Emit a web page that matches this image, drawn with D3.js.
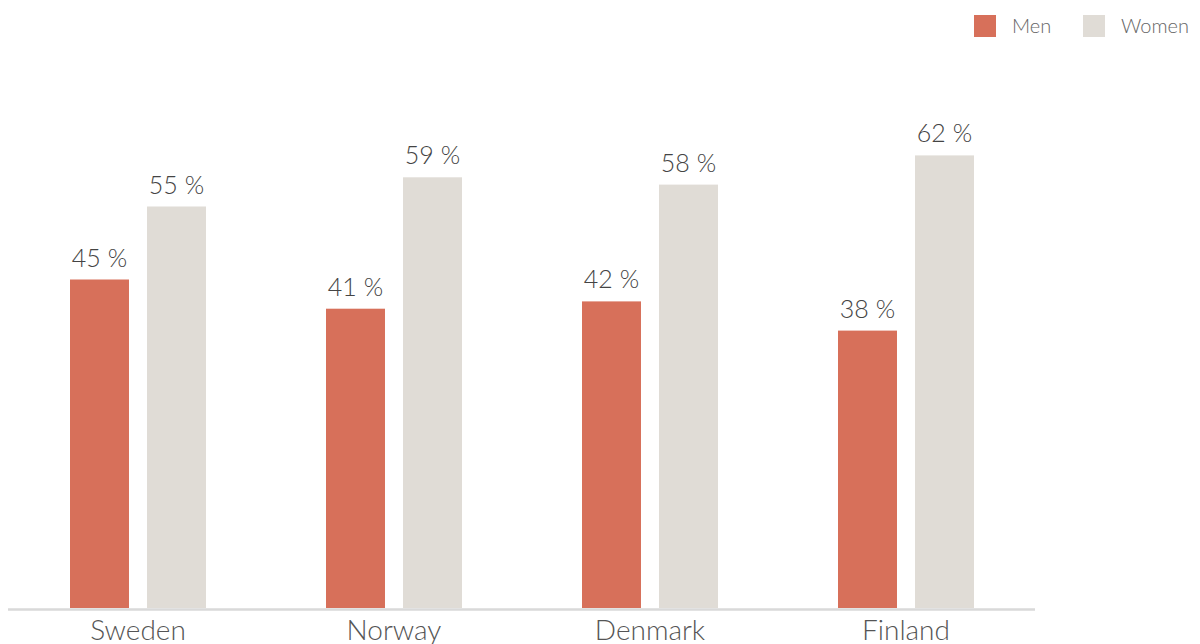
<!DOCTYPE html>
<html>
<head>
<meta charset="utf-8">
<script src="https://cdn.jsdelivr.net/npm/d3@7"></script>
<style>
  html, body { margin: 0; padding: 0; background: #fff; }
  svg text { font-family: Lato, "Open Sans", sans-serif; font-weight: 300; }
</style>
</head>
<body>
<svg id="chart" width="1200" height="644"></svg>
<script>
// Share of men and women, by country
const countries = ["Sweden", "Norway", "Denmark", "Finland"];
const series = ["Men", "Women"];
const menValues = [45, 41, 42, 38];
const womenValues = [55, 59, 58, 62];
const colors = { Men: "#d7705a", Women: "#e0dcd6" };

const rows = countries.map((c, i) => ({ country: c, Men: menValues[i], Women: womenValues[i] }));

const svg = d3.select("#chart");
const baseline = 608;

const x = d3.scaleBand().domain(countries).range([10, 1034]).padding(0);
const xInner = d3.scaleBand().domain(series).range([60, 196]).paddingInner(0.234);
const y = d3.scaleLinear().domain([0, 80]).range([baseline, 24]);

const groups = svg.append("g").selectAll("g")
  .data(rows).join("g")
  .attr("transform", d => `translate(${x(d.country)},0)`);

groups.selectAll("rect")
  .data(d => series.map(s => ({ key: s, value: d[s] })))
  .join("rect")
  .attr("x", d => xInner(d.key))
  .attr("y", d => y(d.value))
  .attr("width", xInner.bandwidth())
  .attr("height", d => baseline - y(d.value))
  .attr("fill", d => colors[d.key]);

groups.selectAll("text.value")
  .data(d => series.map(s => ({ key: s, value: d[s] })))
  .join("text")
  .attr("class", "value")
  .attr("x", d => xInner(d.key) + xInner.bandwidth() / 2)
  .attr("y", d => y(d.value) - 13)
  .attr("text-anchor", "middle")
  .attr("font-size", 25)
  .attr("fill", "#444")
  .text(d => `${d.value} %`);

// Category axis
const axis = svg.append("g")
  .attr("transform", `translate(0,${baseline})`)
  .call(d3.axisBottom(x).tickSize(0).tickPadding(12));
axis.select(".domain").attr("stroke", "#d9d9d9").attr("stroke-width", 2.5)
  .attr("d", "M8,1.5H1035");
axis.selectAll(".tick text")
  .attr("font-size", 28)
  .attr("fill", "#555")
  .attr("font-family", "Lato, 'Open Sans', sans-serif")
  .attr("font-weight", 300)
  .attr("dy", "0.71em");

// Legend
const legendX = [974, 1083];
const legend = svg.append("g").selectAll("g")
  .data(series).join("g")
  .attr("transform", (d, i) => `translate(${legendX[i]},15)`);
legend.append("rect")
  .attr("width", 22).attr("height", 22)
  .attr("fill", d => colors[d]);
legend.append("text")
  .attr("x", 38).attr("y", 18)
  .attr("font-size", 20)
  .attr("fill", "#666")
  .text(d => d);
</script>
</body>
</html>
